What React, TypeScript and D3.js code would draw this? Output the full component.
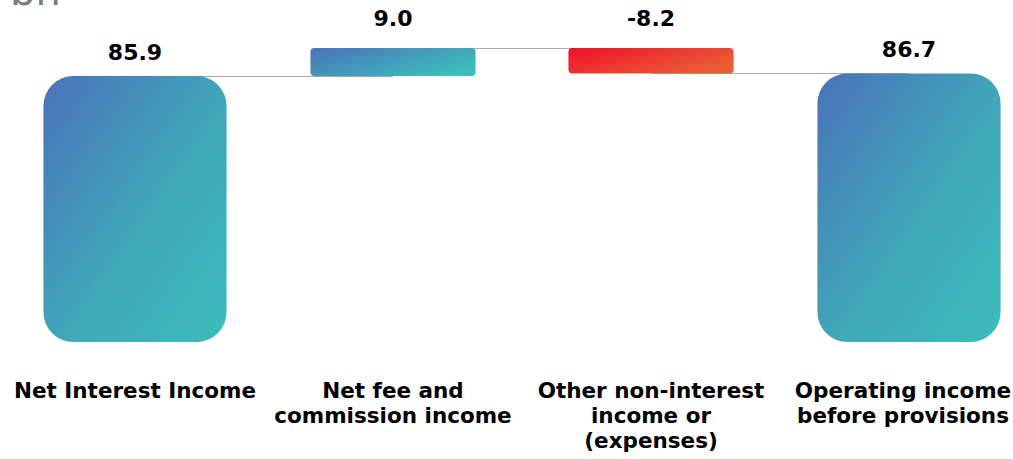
import React from "react";
import * as d3 from "d3";

const categories = [
  ["Net Interest Income"],
  ["Net fee and", "commission income"],
  ["Other non-interest", "income or", "(expenses)"],
  ["Operating income", "before provisions"],
];
const values = [85.9, 9.0, -8.2, 86.7];
const isTotal = [true, false, false, true];
const valueLabels = ["85.9", "9.0", "-8.2", "86.7"];
const unitLabel = "bn";

const W = 1013;
const H = 459;

export default function App() {
  const x = d3.scaleBand<number>().domain(d3.range(values.length)).range([6, 1038]).padding(0);
  const y = d3.scaleLinear().domain([0, 94.9]).range([342, 48]);

  let running = 0;
  const bars = values.map((v, i) => {
    let start: number, end: number;
    if (isTotal[i]) {
      start = 0;
      end = v;
      running = v;
    } else {
      start = running;
      end = running + v;
      running = end;
    }
    return { i, v, start, end };
  });

  const bw = x.bandwidth();
  const font = "'DejaVu Sans', Verdana, sans-serif";

  return (
    <svg width={W} height={H} style={{ position: "absolute", left: 0, top: 0 }}>
      <defs>
        <linearGradient id="gBlue" x1="0" y1="0" x2="1" y2="1">
          <stop offset="0%" stopColor="#4a72b9" />
          <stop offset="55%" stopColor="#40a8b9" />
          <stop offset="100%" stopColor="#3cbcbb" />
        </linearGradient>
        <linearGradient id="gBlueSmall" x1="0" y1="0" x2="1" y2="0.6">
          <stop offset="0%" stopColor="#4a72b9" />
          <stop offset="100%" stopColor="#3cbcbb" />
        </linearGradient>
        <linearGradient id="gRed" x1="0" y1="0" x2="1" y2="0.6">
          <stop offset="0%" stopColor="#f0102b" />
          <stop offset="100%" stopColor="#ea5d36" />
        </linearGradient>
      </defs>

      <text x={10} y={5} fontFamily={font} fontSize={40} fill="#7a7a7a">
        {unitLabel}
      </text>

      {bars.slice(0, -1).map((b, k) => {
        const level = bars[k].end;
        const x1 = (x(k) as number) + bw / 2;
        const x2 = (x(k + 1) as number) + bw / 2;
        return (
          <line
            key={"c" + k}
            x1={x1}
            x2={x2}
            y1={Math.round(y(level)) + 0.5}
            y2={Math.round(y(level)) + 0.5}
            stroke="#aaaaaa"
            strokeWidth={1}
          />
        );
      })}

      {bars.map((b) => {
        const wFrac = isTotal[b.i] ? 0.71 : 0.64;
        const w = bw * wFrac;
        const cx = (x(b.i) as number) + bw / 2;
        const top = y(Math.max(b.start, b.end));
        const bottom = y(Math.min(b.start, b.end));
        const r = isTotal[b.i] ? 30 : 4;
        const fill = isTotal[b.i] ? "url(#gBlue)" : b.v >= 0 ? "url(#gBlueSmall)" : "url(#gRed)";
        const labelY = top - (isTotal[b.i] ? 16 : 22);
        return (
          <g key={"b" + b.i}>
            <rect x={cx - w / 2} y={top} width={w} height={bottom - top} rx={r} ry={r} fill={fill} />
            <text
              x={cx}
              y={labelY}
              textAnchor="middle"
              fontFamily={font}
              fontWeight="bold"
              fontSize={22}
              fill="#000"
            >
              {valueLabels[b.i]}
            </text>
          </g>
        );
      })}

      {categories.map((lines, i) => {
        const cx = (x(i) as number) + bw / 2;
        return (
          <text
            key={"t" + i}
            textAnchor="middle"
            fontFamily={font}
            fontWeight="bold"
            fontSize={21.5}
            fill="#000"
          >
            {lines.map((l, j) => (
              <tspan key={j} x={Math.min(cx, 903)} y={398 + j * 25}>
                {l}
              </tspan>
            ))}
          </text>
        );
      })}
    </svg>
  );
}
